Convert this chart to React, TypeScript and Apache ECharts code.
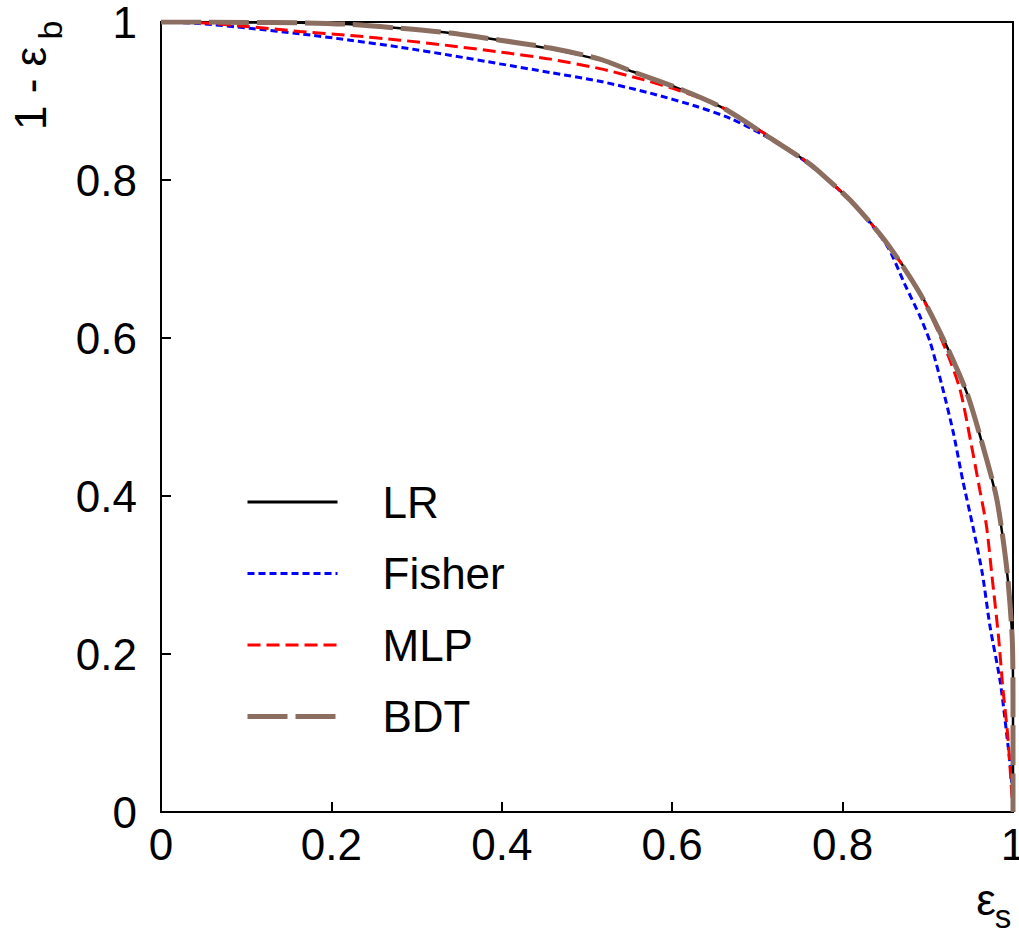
import React, { useEffect, useRef } from "react";
import * as echarts from "echarts";

// Signal efficiency (x) and background rejection 1 - eps_b (y) for each classifier
const lrEps = [0, 0.05, 0.1, 0.163, 0.222, 0.281, 0.339, 0.398, 0.457, 0.515, 0.554, 0.605, 0.66, 0.711, 0.758, 0.773, 0.812, 0.852, 0.891, 0.922, 0.946, 0.965, 0.981, 0.993, 0.999, 1.0, 1.0];
const lrRej = [1.0, 1.0, 0.9995, 0.999, 0.997, 0.992, 0.986, 0.977, 0.966, 0.952, 0.937, 0.917, 0.891, 0.857, 0.823, 0.81, 0.771, 0.72, 0.657, 0.59, 0.53, 0.462, 0.395, 0.304, 0.222, 0.15, 0.0];

const fisherEps = [0, 0.046, 0.104, 0.163, 0.222, 0.281, 0.339, 0.398, 0.457, 0.515, 0.574, 0.629, 0.668, 0.707, 0.758, 0.812, 0.852, 0.873, 0.891, 0.903, 0.918, 0.93, 0.941, 0.953, 0.964, 0.973, 0.985, 0.993, 0.998, 1.0];
const fisherRej = [1.0, 0.998, 0.992, 0.985, 0.977, 0.968, 0.958, 0.947, 0.936, 0.925, 0.91, 0.893, 0.878, 0.857, 0.822, 0.771, 0.717, 0.668, 0.627, 0.594, 0.534, 0.48, 0.42, 0.361, 0.302, 0.235, 0.165, 0.095, 0.044, 0.0];

const mlpEps = [0, 0.046, 0.104, 0.163, 0.222, 0.281, 0.339, 0.398, 0.457, 0.515, 0.566, 0.609, 0.66, 0.711, 0.758, 0.812, 0.852, 0.891, 0.922, 0.938, 0.95, 0.961, 0.969, 0.975, 0.983, 0.988, 0.994, 0.998, 1.0];
const mlpRej = [1.0, 0.999, 0.994, 0.988, 0.983, 0.977, 0.97, 0.962, 0.953, 0.941, 0.927, 0.913, 0.891, 0.857, 0.823, 0.771, 0.72, 0.657, 0.583, 0.534, 0.471, 0.408, 0.361, 0.302, 0.222, 0.158, 0.095, 0.032, 0.0];

const bdtEps = [0, 0.05, 0.1, 0.163, 0.222, 0.281, 0.339, 0.398, 0.457, 0.515, 0.554, 0.605, 0.66, 0.711, 0.758, 0.773, 0.812, 0.852, 0.891, 0.922, 0.946, 0.965, 0.981, 0.993, 0.999, 1.0, 1.0];
const bdtRej = [1.0, 1.0, 0.9995, 0.999, 0.997, 0.992, 0.986, 0.977, 0.967, 0.953, 0.937, 0.917, 0.891, 0.856, 0.823, 0.81, 0.771, 0.72, 0.656, 0.59, 0.53, 0.462, 0.396, 0.305, 0.222, 0.15, 0.0];

const seriesNames = ["LR", "Fisher", "MLP", "BDT"];
const tickValues = [0, 0.2, 0.4, 0.6, 0.8, 1];

const FONT = "'Liberation Sans', Arial, Helvetica, sans-serif";

function pairs(xs: number[], ys: number[]) {
  return xs.map((x, i) => [x, ys[i]]);
}

const hiddenSymbol = { color: "rgba(0,0,0,0)", borderWidth: 0, opacity: 0 };

export default function App() {
  const ref = useRef<HTMLDivElement>(null);

  useEffect(() => {
    if (!ref.current) return;
    const chart = echarts.init(ref.current, undefined, { renderer: "svg" });

    const axisCommon = {
      type: "value" as const,
      min: 0,
      max: 1,
      interval: 0.2,
      axisLine: { show: true, lineStyle: { color: "#000", width: 2 } },
      axisTick: { show: true, inside: true, length: 10, lineStyle: { color: "#000", width: 2 } },
      splitLine: { show: false },
    };

    chart.setOption({
      animation: false,
      backgroundColor: "#fff",
      textStyle: { fontFamily: FONT },
      grid: {
        left: 161,
        top: 22,
        width: 852,
        height: 790,
        show: true,
        borderColor: "#000",
        borderWidth: 2,
        containLabel: false,
        outerBoundsMode: "none",
      },
      xAxis: {
        ...axisCommon,
        axisLabel: {
          fontSize: 44,
          color: "#000",
          fontFamily: FONT,
          margin: 10,
          formatter: (v: number) => {
            const r = Math.round(v * 10) / 10;
            return tickValues.includes(r) ? String(r) : "";
          },
        },
      },
      yAxis: {
        ...axisCommon,
        axisLabel: {
          fontSize: 44,
          color: "#000",
          fontFamily: FONT,
          margin: 24,
          formatter: (v: number) => String(Math.round(v * 10) / 10),
        },
      },
      legend: {
        orient: "vertical",
        left: 245,
        top: 480,
        padding: 0,
        itemWidth: 90,
        itemHeight: 20,
        itemGap: 27.5,
        textStyle: { fontSize: 44, color: "#000", fontFamily: FONT, padding: [0, 0, 0, 40] },
        data: [
          { name: seriesNames[0], lineStyle: { width: 3 }, itemStyle: hiddenSymbol },
          { name: seriesNames[1], lineStyle: { width: 3 }, itemStyle: hiddenSymbol },
          { name: seriesNames[2], lineStyle: { width: 3 }, itemStyle: hiddenSymbol },
          { name: seriesNames[3], lineStyle: { width: 5 }, itemStyle: hiddenSymbol },
        ],
      },
      series: [
        {
          name: seriesNames[0],
          type: "line",
          data: pairs(lrEps, lrRej),
          symbol: "none",
          smooth: 0.25,
          lineStyle: { color: "#000000", width: 2.5, type: "solid" },
          itemStyle: { color: "#000000" },
          z: 2,
        },
        {
          name: seriesNames[1],
          type: "line",
          data: pairs(fisherEps, fisherRej),
          symbol: "none",
          smooth: 0.25,
          lineStyle: { color: "#0000ff", width: 3, type: [7, 4] },
          itemStyle: { color: "#0000ff" },
          z: 3,
        },
        {
          name: seriesNames[2],
          type: "line",
          data: pairs(mlpEps, mlpRej),
          symbol: "none",
          smooth: 0.25,
          lineStyle: { color: "#ff0000", width: 3, type: [13, 6] },
          itemStyle: { color: "#ff0000" },
          z: 4,
        },
        {
          name: seriesNames[3],
          type: "line",
          data: pairs(bdtEps, bdtRej),
          symbol: "none",
          smooth: 0.25,
          lineStyle: { color: "#8b6e60", width: 5, type: [40, 8] },
          itemStyle: { color: "#8b6e60" },
          z: 5,
        },
      ],
      graphic: [
        {
          type: "text",
          x: 30,
          y: 130,
          rotation: Math.PI / 2,
          style: { text: "1 - ε", font: `44px ${FONT}`, fill: "#000", textAlign: "left", textVerticalAlign: "middle" },
        },
        {
          type: "text",
          x: 50,
          y: 30,
          rotation: Math.PI / 2,
          style: { text: "b", font: `34px ${FONT}`, fill: "#000", textAlign: "center", textVerticalAlign: "middle" },
        },
        {
          type: "text",
          x: 986,
          y: 899,
          style: { text: "ε", font: `44px ${FONT}`, fill: "#000", textAlign: "center", textVerticalAlign: "middle" },
        },
        {
          type: "text",
          x: 1003,
          y: 916,
          style: { text: "s", font: `33px ${FONT}`, fill: "#000", textAlign: "center", textVerticalAlign: "middle" },
        },
      ],
    });

    return () => chart.dispose();
  }, []);

  return (
    <div
      ref={ref}
      style={{ position: "fixed", left: 0, top: 0, width: 1019, height: 931, background: "#fff" }}
    />
  );
}
